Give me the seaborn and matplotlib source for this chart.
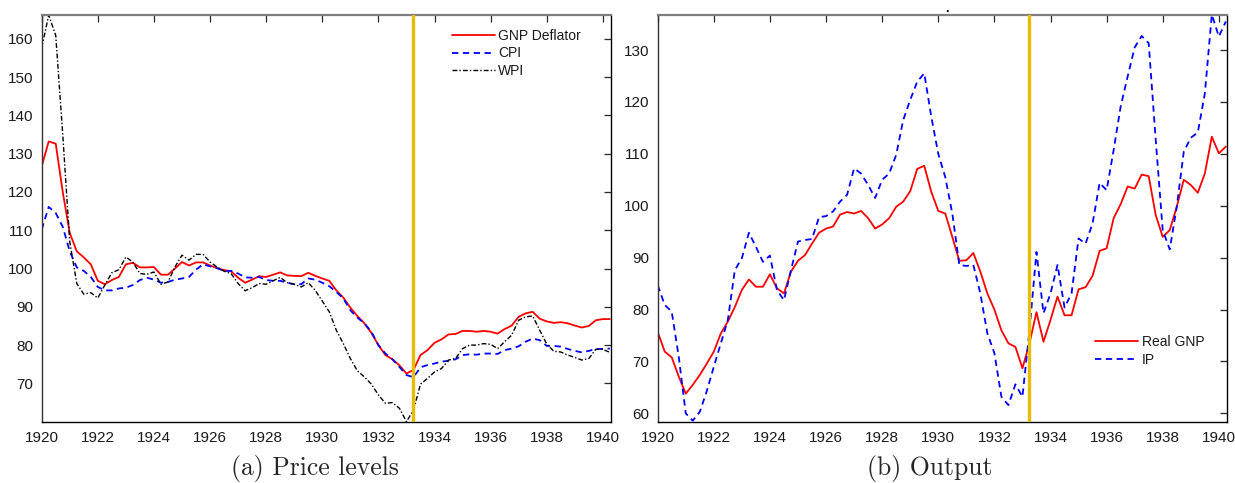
import numpy as np
import pandas as pd
import matplotlib
matplotlib.use("Agg")
import matplotlib.pyplot as plt
import seaborn as sns

# ---- data (quarterly, 1920Q1 .. 1940Q2) ----
quarters = np.arange(1920.0, 1940.26, 0.25)

gnp_deflator = [126.7, 133.2, 132.6, 120.0, 109.3, 104.5, 102.9, 101.1, 96.8, 95.9,
                97.0, 97.8, 101.1, 101.5, 100.3, 100.3, 100.4, 98.4, 98.4, 100.0,
                101.7, 100.8, 101.6, 101.6, 100.8, 100.1, 99.6, 99.3, 97.6, 96.3,
                97.1, 98.0, 97.8, 98.4, 99.0, 98.2, 98.1, 98.0, 98.9, 98.1,
                97.4, 96.8, 94.3, 92.4, 89.8, 87.6, 85.7, 83.2, 80.0, 77.4,
                76.3, 74.7, 72.6, 73.5, 77.4, 78.7, 80.6, 81.5, 82.8, 82.9,
                83.7, 83.7, 83.5, 83.7, 83.5, 83.0, 84.2, 85.1, 87.4, 88.3,
                88.7, 86.9, 86.2, 85.8, 86.0, 85.7, 85.1, 84.6, 85.0, 86.5,
                86.8, 86.8]
cpi = [110.2, 116.1, 114.5, 110.9, 104.5, 100.3, 99.4, 97.8, 95.2, 94.3,
       94.3, 94.8, 95.0, 95.7, 97.0, 97.6, 97.1, 96.3, 96.5, 97.1,
       97.4, 97.8, 99.7, 101.1, 100.6, 100.1, 99.4, 99.4, 98.7, 97.7,
       97.6, 97.8, 97.0, 96.8, 96.8, 96.3, 95.9, 95.9, 97.4, 97.1,
       96.3, 95.4, 93.9, 92.2, 89.1, 87.2, 85.7, 83.5, 80.0, 77.8,
       76.3, 74.3, 72.2, 71.6, 74.2, 74.8, 75.2, 75.7, 75.9, 76.3,
       77.4, 77.6, 77.5, 77.8, 77.8, 77.7, 78.7, 79.1, 79.7, 80.9,
       81.7, 81.3, 79.8, 79.8, 79.6, 79.0, 78.5, 78.1, 78.5, 79.0,
       79.0, 79.1]
wpi = [157.7, 166.2, 160.9, 135.0, 107.0, 96.1, 93.3, 93.7, 92.3, 95.7,
       98.9, 99.7, 103.0, 101.7, 98.7, 98.5, 99.1, 95.9, 96.5, 100.4,
       103.5, 102.2, 103.7, 103.7, 101.7, 100.4, 99.3, 98.7, 96.1, 94.2,
       95.0, 96.1, 95.9, 96.8, 97.7, 96.3, 95.9, 95.2, 96.3, 94.3,
       91.5, 88.7, 83.9, 80.4, 76.5, 73.3, 71.7, 69.8, 67.0, 64.8,
       65.0, 63.5, 60.0, 63.0, 69.8, 71.3, 73.0, 73.9, 76.1, 76.5,
       79.1, 80.0, 80.0, 80.4, 80.2, 79.1, 80.9, 82.6, 86.5, 87.4,
       87.6, 83.9, 80.3, 78.4, 78.2, 77.4, 76.8, 76.1, 76.5, 78.9,
       78.9, 78.1]
real_gnp = [75.7, 71.9, 70.8, 67.1, 63.8, 65.5, 67.4, 69.6, 71.9, 75.4,
            77.7, 80.5, 83.8, 85.8, 84.4, 84.4, 86.8, 84.1, 83.1, 87.3,
            89.4, 90.5, 92.7, 94.8, 95.6, 96.0, 98.3, 98.8, 98.5, 99.0,
            97.6, 95.6, 96.4, 97.6, 99.8, 100.8, 102.8, 107.1, 107.7, 102.7,
            99.0, 98.5, 94.0, 89.4, 89.5, 90.9, 87.3, 83.1, 80.0, 76.0,
            73.5, 72.8, 68.7, 73.5, 79.5, 73.8, 78.0, 82.5, 78.9, 78.9,
            83.9, 84.3, 86.5, 91.3, 91.8, 97.6, 100.3, 103.7, 103.3, 106.0,
            105.7, 98.2, 94.0, 95.3, 99.8, 105.0, 104.0, 102.5, 106.2, 113.3,
            110.1, 111.4]
ip = [84.7, 80.9, 79.6, 70.9, 60.0, 58.6, 60.3, 64.3, 69.0, 73.5,
      78.0, 87.6, 89.9, 94.8, 92.1, 89.2, 90.4, 83.8, 81.8, 87.6,
      93.1, 93.4, 93.6, 97.8, 98.0, 98.9, 100.8, 102.1, 107.2, 106.2,
      104.0, 101.5, 105.0, 106.2, 109.8, 116.5, 120.4, 123.9, 125.5, 117.2,
      110.0, 105.5, 98.5, 88.6, 88.4, 88.6, 83.1, 75.4, 71.6, 63.2,
      61.6, 65.6, 63.2, 76.0, 91.1, 79.3, 83.1, 88.6, 80.4, 83.1,
      93.7, 92.7, 96.6, 104.4, 103.0, 110.7, 119.1, 124.9, 130.5, 132.7,
      131.3, 112.7, 95.3, 91.6, 99.8, 110.4, 113.1, 114.1, 121.6, 136.8,
      132.6, 135.5]

event_date = 1933.25
xticks = list(range(1920, 1941, 2))
left_yticks = list(range(70, 161, 10))
right_yticks = list(range(60, 131, 10))

sns.set_theme(style="white")
plt.rcParams['font.family'] = ['Liberation Sans', 'DejaVu Sans']

W, H = 1235, 483
fig = plt.figure(figsize=(W / 100, H / 100), dpi=100)

def px_axes(x0, x1, y0, y1):
    return fig.add_axes([x0 / W, 1 - y1 / H, (x1 - x0) / W, (y1 - y0) / H])

axL = px_axes(41.7, 610.7, 14.7, 421.7)
axR = px_axes(657.7, 1226.7, 14.7, 421.7)

RED = '#FF0000'
BLUE = '#0000FF'
GOLD = '#E8BC00'

sns.lineplot(x=quarters, y=gnp_deflator, ax=axL, color=RED, lw=1.3, label='GNP Deflator')
sns.lineplot(x=quarters, y=cpi, ax=axL, color=BLUE, lw=1.3, linestyle=(0, (3.5, 2.5)), label='CPI')
sns.lineplot(x=quarters, y=wpi, ax=axL, color='black', lw=1.0, linestyle=(0, (3.5, 1.5, 1, 1.5)), label='WPI')

sns.lineplot(x=quarters, y=real_gnp, ax=axR, color=RED, lw=1.3, label='Real GNP')
sns.lineplot(x=quarters, y=ip, ax=axR, color=BLUE, lw=1.3, linestyle=(0, (3.5, 2.5)), label='IP')

for ax, ylim, yt in [(axL, (60, 166.3), left_yticks), (axR, (58.4, 136.8), right_yticks)]:
    ax.axvline(event_date, color=GOLD, lw=2.4, zorder=5)
    ax.set_xlim(1920, 1940.28)
    ax.set_ylim(*ylim)
    ax.set_xticks(xticks)
    ax.set_yticks(yt)
    ax.set_xlabel('')
    ax.set_ylabel('')
    ax.tick_params(axis='both', which='major', direction='in', length=5, width=0.9,
                   top=True, right=True, labelsize=11, colors='#262626',
                   labelcolor='#1a1a1a', pad=6)
    ax.tick_params(axis='x', pad=7)
    for side in ['left', 'right', 'bottom', 'top']:
        ax.spines[side].set_visible(True)
        ax.spines[side].set_linewidth(1.0)
        ax.spines[side].set_color('black')
    ax.spines['top'].set_color('#7f7f7f')
    ax.spines['top'].set_linewidth(1.6)
    ax.spines['left'].set_color('#333333')
    ax.grid(False)

legL = axL.legend(loc='upper left', bbox_to_anchor=(451.7 / W, 1 - 29 / H),
                  bbox_transform=fig.transFigure, frameon=False, fontsize=10,
                  handlelength=3.1, handletextpad=0.25, labelspacing=0.25,
                  borderpad=0, borderaxespad=0)
legR = axR.legend(loc='upper left', bbox_to_anchor=(1095 / W, 1 - 335 / H),
                  bbox_transform=fig.transFigure, frameon=False, fontsize=10,
                  handlelength=3.1, handletextpad=0.25, labelspacing=0.3,
                  borderpad=0, borderaxespad=0)
for leg in (legL, legR):
    for t in leg.get_texts():
        t.set_color('#1a1a1a')

fig.text(946.7 / W, 1 - 9 / H, '.', ha='center', va='center', fontsize=9,
         fontweight='bold', color='black')

cap_font = ['cmr10', 'DejaVu Serif']
fig.text(315 / W, 1 - 469 / H, '(a) Price levels', ha='center', va='center',
         fontsize=18.5, family=cap_font)
fig.text(930 / W, 1 - 469 / H, '(b) Output', ha='center', va='center',
         fontsize=18.5, family=cap_font)

fig.savefig('out.png', dpi=100)
